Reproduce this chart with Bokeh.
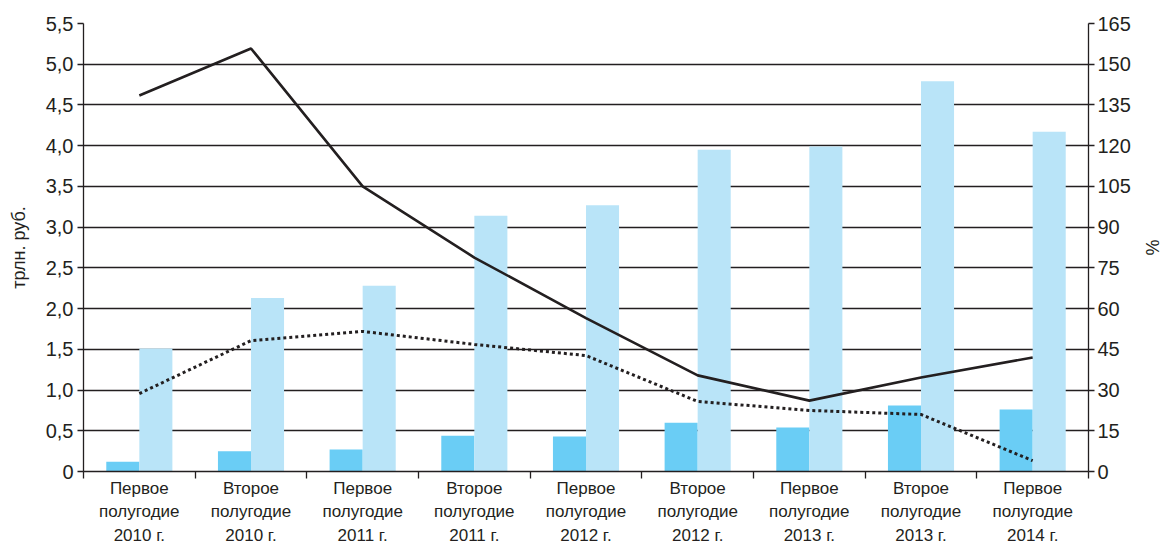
import numpy as np
from bokeh.plotting import figure
from bokeh.models import (Range1d, LinearAxis, FixedTicker, CustomJSTickFormatter, ColumnDataSource)
from bokeh.embed import file_html
from bokeh.resources import INLINE

categories = ["Первое\nполугодие\n2010 г.", "Второе\nполугодие\n2010 г.",
              "Первое\nполугодие\n2011 г.", "Второе\nполугодие\n2011 г.",
              "Первое\nполугодие\n2012 г.", "Второе\nполугодие\n2012 г.",
              "Первое\nполугодие\n2013 г.", "Второе\nполугодие\n2013 г.",
              "Первое\nполугодие\n2014 г."]
bars_dark = [0.12, 0.25, 0.27, 0.44, 0.43, 0.60, 0.54, 0.81, 0.76]
bars_light = [1.51, 2.13, 2.28, 3.14, 3.27, 3.95, 3.99, 4.79, 4.17]
line_solid = [138.5, 155.8, 105.0, 78.8, 56.5, 35.4, 26.1, 34.6, 42.0]
line_dotted = [28.7, 48.2, 51.6, 46.8, 42.7, 25.8, 22.5, 21.0, 4.0]
left_ticks = [0, 0.5, 1.0, 1.5, 2.0, 2.5, 3.0, 3.5, 4.0, 4.5, 5.0, 5.5]
right_ticks = [0, 15, 30, 45, 60, 75, 90, 105, 120, 135, 150, 165]

FONT = "Liberation Sans"
TXT = "#231f20"

n = len(categories)
xc = np.arange(n) + 0.5
src = ColumnDataSource(dict(xc=xc, xd=xc - 0.148, xl=xc + 0.148,
                            dark=bars_dark, light=bars_light,
                            solid=line_solid, dotted=line_dotted))

p = figure(frame_width=1005, frame_height=448, output_backend="svg", toolbar_location=None,
           x_range=Range1d(0, n), y_range=Range1d(0, 5.5),
           min_border_left=83, min_border_right=0, min_border_top=23, min_border_bottom=0)
p.outline_line_color = None
p.background_fill_color = "white"
p.extra_y_ranges = {"pct": Range1d(0, 165)}

p.vbar(x="xd", top="dark", width=0.296, bottom=0, source=src, fill_color="#6acdf5", line_color=None)
p.vbar(x="xl", top="light", width=0.296, bottom=0, source=src, fill_color="#b9e4f8", line_color=None)
p.line(x="xc", y="solid", source=src, y_range_name="pct", line_color="#231f20", line_width=2.6)
p.line(x="xc", y="dotted", source=src, y_range_name="pct", line_color="#231f20", line_width=3,
       line_dash="3 3")

# left axis
ya = p.yaxis[0]
ya.ticker = FixedTicker(ticks=left_ticks, minor_ticks=[])
ya.formatter = CustomJSTickFormatter(code="return tick == 0 ? '0' : tick.toFixed(1).replace('.', ',');")
ya.axis_label = "трлн. руб."
ya.axis_label_text_font = FONT
ya.axis_label_text_font_style = "normal"
ya.axis_label_text_font_size = "18px"
ya.axis_label_text_color = TXT
ya.axis_label_standoff = 14
ya.major_label_text_font = FONT
ya.major_label_text_font_size = "20px"
ya.major_label_text_color = TXT
ya.major_label_standoff = 4
ya.axis_line_color = "#231f20"
ya.axis_line_width = 1.3
ya.major_tick_line_color = "#231f20"
ya.major_tick_line_width = 1.3
ya.major_tick_out = 6
ya.major_tick_in = 0

p.ygrid.ticker = FixedTicker(ticks=left_ticks)
p.ygrid.grid_line_color = "#231f20"
p.ygrid.grid_line_width = 1.3
p.xgrid.grid_line_color = None

# right axis
ra = LinearAxis(y_range_name="pct", ticker=FixedTicker(ticks=right_ticks, minor_ticks=[]))
ra.axis_label = "%"
ra.axis_label_text_font = FONT
ra.axis_label_text_font_style = "normal"
ra.axis_label_text_font_size = "18px"
ra.axis_label_text_color = TXT
ra.axis_label_standoff = 8
ra.major_label_text_font = FONT
ra.major_label_text_font_size = "20px"
ra.major_label_text_color = TXT
ra.major_label_standoff = 3
ra.axis_line_color = "#231f20"
ra.axis_line_width = 1.3
ra.major_tick_line_color = "#231f20"
ra.major_tick_line_width = 1.3
ra.major_tick_out = 6
ra.major_tick_in = 0
p.add_layout(ra, "right")

# bottom axis
xa = p.xaxis[0]
xa.ticker = FixedTicker(ticks=list(xc), minor_ticks=list(range(n + 1)))
xa.formatter = CustomJSTickFormatter(args=dict(labels=categories),
                                     code="return labels[Math.floor(tick)];")
xa.major_label_text_font = FONT
xa.major_label_text_font_size = "17px"
xa.major_label_text_color = TXT
xa.major_label_text_line_height = 1.25
xa.major_label_standoff = 0
xa.major_tick_line_color = None
xa.major_tick_out = 7
xa.major_tick_in = 0
xa.minor_tick_line_color = "#231f20"
xa.minor_tick_line_width = 1.3
xa.minor_tick_out = 7
xa.minor_tick_in = 0
xa.axis_line_color = "#231f20"
xa.axis_line_width = 1.3

open("out.html", "w").write(file_html(p, INLINE))
